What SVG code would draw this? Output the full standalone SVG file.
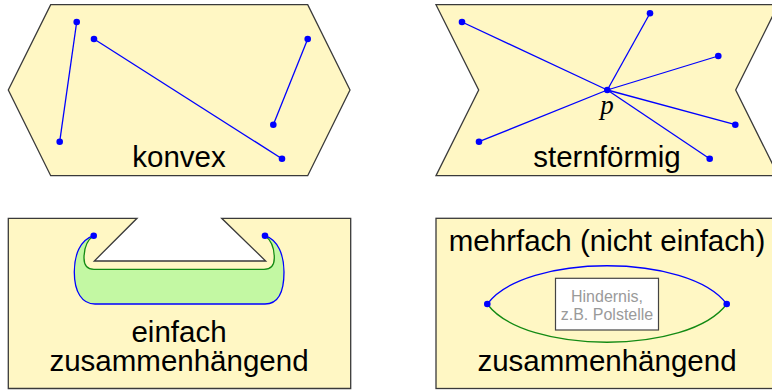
<svg xmlns="http://www.w3.org/2000/svg" width="772" height="390" viewBox="0 0 772 390">
<defs>
<style>
.region{fill:#fff7c4;stroke:#3a3a3a;stroke-width:1.3;stroke-linejoin:miter}
.seg{stroke:#0000ff;stroke-width:1.3;fill:none}
.dot{fill:#0000ff}
.lbl{font-family:"Liberation Sans",Arial,sans-serif;font-size:29.5px;fill:#000;text-anchor:middle}
.small{font-family:"Liberation Sans",Arial,sans-serif;font-size:16px;fill:#9a9a9a;text-anchor:middle}
.green{stroke:#138a13;stroke-width:1.3;fill:none}
</style>
</defs>
<rect width="772" height="390" fill="#ffffff"/>

<g id="konvex">
<polygon class="region" points="50.7,4.7 307.7,4.7 350,90 307.7,175.7 50.7,175.7 8.3,90"/>
<g id="konvex-segments">
<line class="seg" x1="76.7" y1="22" x2="59.7" y2="141.7"/>
<line class="seg" x1="94" y1="39" x2="282" y2="158.7"/>
<line class="seg" x1="307.7" y1="39" x2="273.3" y2="124.7"/>
</g>
<circle class="dot" cx="76.7" cy="22" r="3.3"/>
<circle class="dot" cx="59.7" cy="141.7" r="3.3"/>
<circle class="dot" cx="94" cy="39" r="3.3"/>
<circle class="dot" cx="282" cy="158.7" r="3.3"/>
<circle class="dot" cx="307.7" cy="39" r="3.3"/>
<circle class="dot" cx="273.3" cy="124.7" r="3.3"/>
<text class="lbl" x="179" y="167">konvex</text>
</g>

<g id="sternfoermig">
<polygon class="region" points="436,4.7 778.3,4.7 735.7,90 778.3,175.7 436,175.7 478.7,90"/>
<g id="stern-segments">
<line class="seg" x1="607.3" y1="90" x2="462" y2="22"/>
<line class="seg" x1="607.3" y1="90" x2="650" y2="13.3"/>
<line class="seg" x1="607.3" y1="90" x2="718.3" y2="56"/>
<line class="seg" x1="607.3" y1="90" x2="735.3" y2="124.7"/>
<line class="seg" x1="607.3" y1="90" x2="709.7" y2="158.7"/>
<line class="seg" x1="607.3" y1="90" x2="479" y2="141.7"/>
</g>
<circle class="dot" cx="607.3" cy="90" r="3.3"/>
<circle class="dot" cx="462" cy="22" r="3.3"/>
<circle class="dot" cx="650" cy="13.3" r="3.3"/>
<circle class="dot" cx="718.3" cy="56" r="3.3"/>
<circle class="dot" cx="735.3" cy="124.7" r="3.3"/>
<circle class="dot" cx="709.7" cy="158.7" r="3.3"/>
<circle class="dot" cx="479" cy="141.7" r="3.3"/>
<text x="607" y="113.5" font-family="'Liberation Serif','Times New Roman',serif" font-style="italic" font-size="27" text-anchor="middle" fill="#000">p</text>
<text class="lbl" x="607" y="167">sternförmig</text>
</g>

<g id="einfach">
<polygon class="region" points="8.3,218.3 137,218.3 94.3,261 265.7,261 221.7,218.3 350.7,218.3 350.7,388.5 8.3,388.5"/>
<path d="M93.7,235.7 C80,240 74.3,255 74.3,272 C74.3,292 82,304 95,304 L265,304 C278,304 284,292 284,272 C284,255 278,240 265,235.7 C271,240 274.3,248 274.3,258 C274.3,265 271,269.3 264,269.3 L94,269.3 C87,269.3 84,265 84,258 C84,248 87,240 93.7,235.7 Z" fill="#c3f8a3" stroke="none"/>
<path class="seg" d="M93.7,235.7 C80,240 74.3,255 74.3,272 C74.3,292 82,304 95,304 L265,304 C278,304 284,292 284,272 C284,255 278,240 265,235.7"/>
<path class="green" d="M93.7,235.7 C87,240 84,248 84,258 C84,265 87,269.3 94,269.3 L264,269.3 C271,269.3 274.3,265 274.3,258 C274.3,248 271,240 265,235.7"/>
<circle class="dot" cx="93.7" cy="235.7" r="3.3"/>
<circle class="dot" cx="265" cy="235.7" r="3.3"/>
<text class="lbl" x="179" y="341.5">einfach</text>
<text class="lbl" x="179" y="370.5">zusammenhängend</text>
</g>

<g id="mehrfach">
<rect class="region" x="436" y="218.3" width="345" height="170.2"/>
<text class="lbl" x="607" y="251">mehrfach (nicht einfach)</text>
<path class="seg" d="M487.3,304 C525,253 689,253 726.7,304"/>
<path class="green" d="M487.3,304 C525,355 689,355 726.7,304"/>
<circle class="dot" cx="487.3" cy="304" r="3.3"/>
<circle class="dot" cx="726.7" cy="304" r="3.3"/>
<g id="hindernis">
<rect x="555.5" y="278.3" width="103" height="51.7" fill="#ffffff" stroke="#444" stroke-width="1.2"/>
<text class="small" x="607" y="301.5">Hindernis,</text>
<text class="small" x="607" y="319.5">z.B. Polstelle</text>
</g>
<text class="lbl" x="607" y="370.5">zusammenhängend</text>
</g>
</svg>
